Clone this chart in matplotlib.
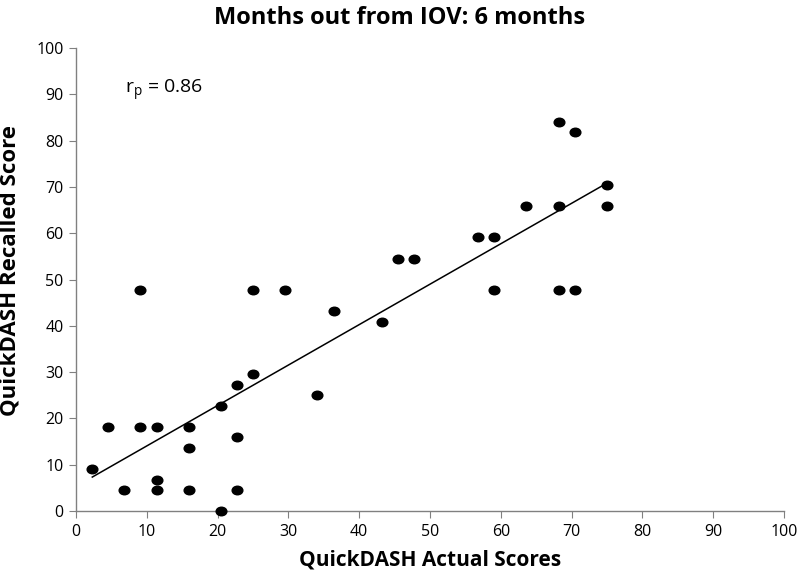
import numpy as np
import matplotlib
matplotlib.use('Agg')
import matplotlib.pyplot as plt
from matplotlib.markers import MarkerStyle
from matplotlib.transforms import Affine2D

plt.rcParams['font.family'] = ['Open Sans', 'DejaVu Sans']

# QuickDASH actual vs recalled scores (6 months out)
actual = [2.3, 4.5, 6.8, 9.1, 9.1, 11.4, 11.4, 11.4, 15.9, 15.9, 15.9,
          20.5, 20.5, 22.7, 22.7, 22.7, 25.0, 25.0, 29.5, 34.1, 36.4,
          43.2, 45.5, 47.7, 56.8, 59.1, 59.1, 63.6, 68.2, 68.2, 68.2,
          70.5, 70.5, 75.0, 75.0]
recalled = [9.1, 18.2, 4.5, 18.2, 47.7, 18.2, 6.8, 4.5, 18.2, 13.6, 4.5,
            22.7, 0.0, 27.3, 15.9, 4.5, 47.7, 29.5, 47.7, 25.0, 43.2,
            40.9, 54.5, 54.5, 59.1, 59.1, 47.7, 65.9, 84.1, 65.9, 47.7,
            81.8, 47.7, 70.5, 65.9]
ticks = list(range(0, 101, 10))

fig = plt.figure(figsize=(8, 5.71), dpi=100)
ax = fig.add_axes([0.095, 0.105, 0.885, 0.811])

# slightly flattened dots like the original export
dot = MarkerStyle('o', transform=Affine2D().scale(1.1, 0.88))
ax.plot(actual, recalled, linestyle='none', marker=dot, color='black',
        ms=7, clip_on=False, zorder=3)

# linear trendline
slope, icpt = np.polyfit(actual, recalled, 1)
xs = np.array([min(actual), max(actual)])
ax.plot(xs, slope * xs + icpt, color='black', lw=1.1)

ax.set_xlim(0, 100)
ax.set_ylim(0, 100)
ax.set_xticks(ticks)
ax.set_yticks(ticks)
for s in ['top', 'right']:
    ax.spines[s].set_visible(False)
for s in ['left', 'bottom']:
    ax.spines[s].set_color('#808080')
    ax.spines[s].set_linewidth(1)
ax.tick_params(direction='out', length=5, color='#808080', labelsize=11.5, pad=4)

ax.text(6.9, 90.8, r'r$_\mathregular{p}$ = 0.86', fontsize=14, va='center')

fig.text(0.5, 0.968, 'Months out from IOV: 6 months', fontsize=17,
         fontweight='bold', ha='center', va='center')
ax.set_xlabel('QuickDASH Actual Scores', fontsize=15, fontweight='bold', labelpad=7)
ax.set_ylabel('QuickDASH Recalled Score', fontsize=16, fontweight='bold')
ax.yaxis.set_label_coords(-0.078, 0.52)

fig.savefig('out.png', dpi=100)
